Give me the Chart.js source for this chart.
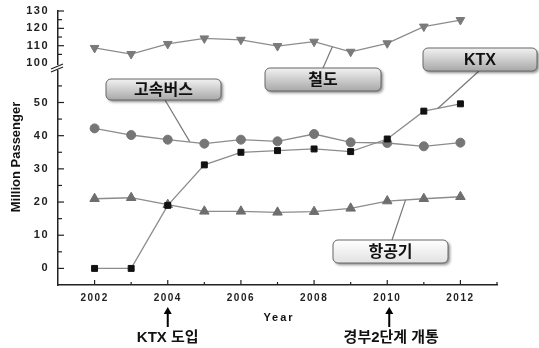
<!DOCTYPE html>
<html>
<head>
<meta charset="utf-8">
<script src="https://cdn.jsdelivr.net/npm/chart.js@4"></script>
<style>
  html, body { margin: 0; padding: 0; background: #fff; }
</style>
</head>
<body>
<canvas id="chart" width="539" height="348"></canvas>
<script>
// data
const years = [2002, 2003, 2004, 2005, 2006, 2007, 2008, 2009, 2010, 2011, 2012];
const ktx   = [0, 0, 19, 31.2, 35, 35.5, 36, 35.2, 39, 47.4, 49.6];
const bus   = [42.2, 40.2, 38.8, 37.6, 38.8, 38.3, 40.5, 38, 37.8, 36.8, 37.9];
const air   = [21, 21.3, 19.2, 17.2, 17.2, 16.9, 17.1, 18.1, 20.3, 21, 21.6];
const rail  = [108.7, 105.2, 111, 114.2, 113.4, 109.8, 112.3, 106.5, 111.4, 121, 124.8];
const lowerLabels = [0, 10, 20, 30, 40, 50];
const upperLabels = [100, 110, 120, 130];
const yearLabels = [2002, 2004, 2006, 2008, 2010, 2012];

const FONT = '"Liberation Sans", Arial, sans-serif';
const KFONT = '"Liberation Sans", "Noto Sans CJK KR", sans-serif';
const LINE = '#8c8c8c';

const pts = arr => arr.map((v, i) => ({ x: years[i], y: v }));

function roundRect(ctx, x, y, w, h, r) {
  ctx.beginPath();
  ctx.moveTo(x + r, y);
  ctx.arcTo(x + w, y, x + w, y + h, r);
  ctx.arcTo(x + w, y + h, x, y + h, r);
  ctx.arcTo(x, y + h, x, y, r);
  ctx.arcTo(x, y, x + w, y, r);
  ctx.closePath();
}

function callout(ctx, box, from, to, text, light) {
  // leader line
  ctx.save();
  ctx.strokeStyle = '#777';
  ctx.lineWidth = 1.2;
  ctx.beginPath();
  ctx.moveTo(from[0], from[1]);
  ctx.lineTo(to[0], to[1]);
  ctx.stroke();
  ctx.restore();

  const [x, y, w, h] = box;
  ctx.save();
  ctx.shadowColor = 'rgba(0,0,0,0.45)';
  ctx.shadowBlur = 3;
  ctx.shadowOffsetX = 2;
  ctx.shadowOffsetY = 2;
  const g = ctx.createLinearGradient(0, y, 0, y + h);
  if (light) {
    g.addColorStop(0, '#ffffff');
    g.addColorStop(1, '#e2e2e2');
  } else {
    g.addColorStop(0, '#f2f2f2');
    g.addColorStop(1, '#a8a8a8');
  }
  roundRect(ctx, x, y, w, h, 5);
  ctx.fillStyle = g;
  ctx.fill();
  ctx.restore();
  ctx.save();
  roundRect(ctx, x, y, w, h, 5);
  ctx.strokeStyle = '#666';
  ctx.lineWidth = 1;
  ctx.stroke();
  ctx.fillStyle = '#111';
  ctx.font = 'bold 16px ' + KFONT;
  ctx.textAlign = 'center';
  ctx.textBaseline = 'middle';
  ctx.fillText(text, x + w / 2, y + h / 2 + 1);
  ctx.restore();
}

function arrowUp(ctx, x, yTop, yBottom) {
  ctx.save();
  ctx.strokeStyle = '#000';
  ctx.fillStyle = '#000';
  ctx.lineWidth = 2;
  ctx.beginPath();
  ctx.moveTo(x, yBottom);
  ctx.lineTo(x, yTop + 4);
  ctx.stroke();
  ctx.beginPath();
  ctx.moveTo(x, yTop);
  ctx.lineTo(x - 4, yTop + 7);
  ctx.lineTo(x + 4, yTop + 7);
  ctx.closePath();
  ctx.fill();
  ctx.restore();
}

const decor = {
  id: 'decor',
  beforeDraw(chart) {
    // spaced-out tick labels like the original
    chart.ctx.letterSpacing = '1.5px';
  },
  afterDraw(chart) {
    const ctx = chart.ctx;
    ctx.letterSpacing = '0px';
    const xs = chart.scales.x, lo = chart.scales.y, up = chart.scales.y2;
    const axX = xs.left;

    ctx.save();
    ctx.strokeStyle = '#222';
    ctx.lineWidth = 1.2;
    // inward tick marks on the y axes
    for (let v = 0; v <= 55; v += 5) {
      const py = lo.getPixelForValue(v);
      ctx.beginPath();
      ctx.moveTo(axX, py);
      ctx.lineTo(axX + (v % 10 === 0 ? 6 : 4), py);
      ctx.stroke();
    }
    for (let v = 105; v <= 130; v += 5) {
      const py = up.getPixelForValue(v);
      ctx.beginPath();
      ctx.moveTo(axX, py);
      ctx.lineTo(axX + (v % 10 === 0 ? 6 : 4), py);
      ctx.stroke();
    }
    // x axis tick marks pointing up
    for (let yr = 2002; yr <= 2013; yr++) {
      const px = xs.getPixelForValue(yr);
      ctx.beginPath();
      ctx.moveTo(px, xs.top);
      ctx.lineTo(px, xs.top - (yr % 2 === 0 ? 5 : 3));
      ctx.stroke();
    }
    // axis break
    const by = up.bottom + 2;
    ctx.fillStyle = '#fff';
    ctx.fillRect(axX - 3, by - 3, 6, 5);
    ctx.beginPath();
    ctx.moveTo(axX - 7, by + 1);
    ctx.lineTo(axX + 5, by - 4);
    ctx.moveTo(axX - 7, by + 4);
    ctx.lineTo(axX + 5, by - 1);
    ctx.stroke();
    ctx.restore();

    // y title
    ctx.save();
    ctx.translate(16, 157);
    ctx.rotate(-Math.PI / 2);
    ctx.font = 'bold 13px ' + FONT;
    ctx.fillStyle = '#111';
    ctx.textAlign = 'center';
    ctx.textBaseline = 'middle';
    ctx.fillText('Million Passenger', 0, 0);
    ctx.restore();

    // x title
    ctx.save();
    ctx.font = 'bold 11px ' + FONT;
    ctx.letterSpacing = '2px';
    ctx.fillStyle = '#111';
    ctx.textAlign = 'center';
    ctx.textBaseline = 'middle';
    ctx.fillText('Year', 279, 318);
    ctx.restore();

    // callouts
    const P = (xv, yv, s) => [xs.getPixelForValue(xv), s.getPixelForValue(yv)];
    callout(ctx, [106, 79, 115, 21], [165, 100], P(2004.6, 38.2, lo), '고속버스', false);
    callout(ctx, [265, 68, 116, 23], [323, 68], P(2008.5, 109.4, up), '철도', false);
    callout(ctx, [423, 48, 114, 23], [479, 71], P(2011.38, 48.2, lo), 'KTX', false);
    callout(ctx, [333, 240, 115, 23], [392, 240], P(2010.5, 20.65, lo), '항공기', true);

    // events under the x axis
    const x04 = xs.getPixelForValue(2004), x10 = xs.getPixelForValue(2010);
    arrowUp(ctx, x04, 307, 327);
    arrowUp(ctx, x10 + 2, 307, 327);
    ctx.save();
    ctx.font = 'bold 15px ' + KFONT;
    ctx.fillStyle = '#111';
    ctx.textAlign = 'center';
    ctx.textBaseline = 'middle';
    ctx.fillText('KTX 도입', x04, 338);
    ctx.fillText('경부2단계 개통', x10 + 4, 338);
    ctx.restore();
  }
};

const common = { borderColor: LINE, borderWidth: 1.3, tension: 0, fill: false };
const fixedTicks = list => s => { s.ticks = list.map(v => ({ value: v })); };
const fitY = s => { s.width = 58; s.paddingTop = 0; s.paddingBottom = 0; };

new Chart(document.getElementById('chart'), {
  type: 'line',
  data: {
    datasets: [
      { ...common, label: 'KTX', data: pts(ktx), yAxisID: 'y', pointStyle: 'rect',
        pointRadius: 4.2, pointBackgroundColor: '#111', pointBorderColor: '#111', pointBorderWidth: 1 },
      { ...common, label: '고속버스', data: pts(bus), yAxisID: 'y', pointStyle: 'circle',
        pointRadius: 4.5, pointBackgroundColor: '#767676', pointBorderColor: '#767676', pointBorderWidth: 1 },
      { ...common, label: '항공기', data: pts(air), yAxisID: 'y', pointStyle: 'triangle',
        pointRadius: 5.5, pointBackgroundColor: '#6e6e6e', pointBorderColor: '#6e6e6e', pointBorderWidth: 1 },
      { ...common, label: '철도', data: pts(rail), yAxisID: 'y2', pointStyle: 'triangle', pointRotation: 180,
        pointRadius: 5, pointBackgroundColor: '#7a7a7a', pointBorderColor: '#7a7a7a', pointBorderWidth: 1 }
    ]
  },
  options: {
    responsive: false,
    devicePixelRatio: 1,
    animation: false,
    layout: { padding: { top: 11, right: 42, bottom: 0, left: 0 } },
    plugins: { legend: { display: false }, tooltip: { enabled: false } },
    scales: {
      x: {
        type: 'linear', min: 2001, max: 2013,
        grid: { display: false, drawTicks: false },
        border: { display: true, color: '#222', width: 1.5 },
        ticks: {
          autoSkip: false, maxRotation: 0, padding: 7,
          font: { family: FONT, size: 10, weight: 'bold' }, color: '#222',
          callback: v => String(v)
        },
        afterBuildTicks: fixedTicks(yearLabels),
        afterFit: s => { s.height = 63; }
      },
      y: {
        type: 'linear', position: 'left', stack: 'y', stackWeight: 219,
        min: -5, max: 61,
        grid: { display: false, drawTicks: false },
        border: { display: true, color: '#222', width: 1.5 },
        ticks: {
          autoSkip: false, padding: 9,
          font: { family: FONT, size: 11, weight: 'bold' }, color: '#222',
          callback: v => String(v)
        },
        afterBuildTicks: fixedTicks(lowerLabels),
        afterFit: fitY
      },
      y2: {
        type: 'linear', position: 'left', stack: 'y', stackWeight: 55,
        min: 98.3, max: 130,
        grid: { display: false, drawTicks: false },
        border: { display: true, color: '#222', width: 1.5 },
        ticks: {
          autoSkip: false, padding: 9,
          font: { family: FONT, size: 11, weight: 'bold' }, color: '#222',
          callback: v => String(v)
        },
        afterBuildTicks: fixedTicks(upperLabels),
        afterFit: fitY
      }
    }
  },
  plugins: [decor]
});
</script>
</body>
</html>
